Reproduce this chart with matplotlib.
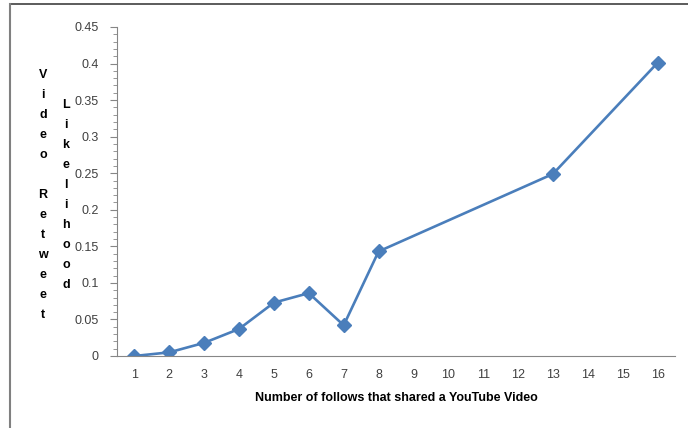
import matplotlib
matplotlib.use("Agg")
import matplotlib.pyplot as plt
from matplotlib.lines import Line2D
from matplotlib.ticker import MultipleLocator, FuncFormatter

plt.rcParams['font.family'] = ['Liberation Sans', 'DejaVu Sans']

# data
follows = [1, 2, 3, 4, 5, 6, 7, 8, 13, 16]
likelihood = [0.0, 0.005, 0.018, 0.037, 0.073, 0.086, 0.042, 0.143, 0.249, 0.401]
xcats = list(range(1, 17))

fig = plt.figure(figsize=(6.88, 4.28), dpi=100)
ax = fig.add_axes([117 / 688, 1 - 356 / 428, 558 / 688, 329 / 428])

ax.plot(follows, likelihood, color='#4a7ebb', lw=1.9, marker='D', ms=7.5,
        markerfacecolor='#4a7ebb', markeredgecolor='#4a7ebb')

ax.set_xlim(0.5, 16.5)
ax.set_ylim(0, 0.45)
ax.set_xticks(xcats)
ax.set_xticklabels([str(c) for c in xcats])
ax.yaxis.set_major_locator(MultipleLocator(0.05))
ax.yaxis.set_minor_locator(MultipleLocator(0.01))
ax.yaxis.set_major_formatter(FuncFormatter(lambda v, p: ('%.2f' % v).rstrip('0').rstrip('.') if v else '0'))

for s in ['top', 'right']:
    ax.spines[s].set_visible(False)
ax.spines['left'].set_color('#868686')
ax.spines['bottom'].set_color('#868686')
ax.tick_params(axis='x', length=0, pad=9, labelsize=9, labelcolor='#404040')
ax.tick_params(axis='y', which='major', direction='out', length=5, color='#868686',
               pad=8, labelsize=9, labelcolor='#404040')
ax.tick_params(axis='y', which='minor', direction='out', length=3, color='#868686')

ax.set_xlabel('Number of follows that shared a YouTube Video', fontsize=9,
              fontweight='bold', labelpad=8)

# stacked y label letters, two columns
col1 = "Video Retweet"
col2 = "Likelihood"
step = 20 / 428
for i, ch in enumerate(col1):
    fig.text(43 / 688, 1 - 75 / 428 - i * step, ch, fontsize=9, fontweight='bold',
             ha='center', va='center')
for i, ch in enumerate(col2):
    fig.text(66 / 688, 1 - 105 / 428 - i * step, ch, fontsize=9, fontweight='bold',
             ha='center', va='center')

# chart frame (top and left edges visible)
fig.add_artist(Line2D([10 / 688, 1], [1 - 4 / 428, 1 - 4 / 428], transform=fig.transFigure,
                      color='#404040', lw=1.2))
fig.add_artist(Line2D([10 / 688, 10 / 688], [0, 1 - 4 / 428], transform=fig.transFigure,
                      color='#808080', lw=1.5))

fig.savefig('out.png', dpi=100)
